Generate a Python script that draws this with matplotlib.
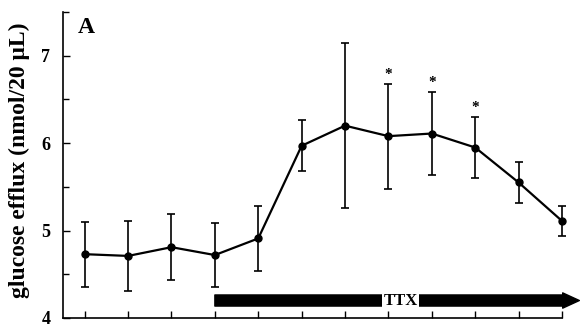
import numpy as np
import matplotlib
matplotlib.use("Agg")
import matplotlib.pyplot as plt
from matplotlib.patches import FancyArrowPatch
from matplotlib.ticker import MultipleLocator

# glucose efflux per sample, mean and error (nmol/20 uL)
samples = np.arange(12)
efflux = [4.73, 4.71, 4.81, 4.72, 4.91, 5.97, 6.20, 6.08, 6.11, 5.95, 5.55, 5.11]
err = [0.37, 0.40, 0.38, 0.37, 0.37, 0.29, 0.94, 0.60, 0.47, 0.35, 0.23, 0.17]
signif = [7, 8, 9]
ttx_start, ttx_end = 3, 11.4
ttx_level = 4.2

plt.rcParams['font.family'] = ['Liberation Serif', 'DejaVu Serif']
plt.rcParams['font.weight'] = 'bold'

fig = plt.figure(figsize=(5.81, 3.27), dpi=100)
ax = fig.add_axes([63 / 581, 9 / 327, (562 - 63) / 581, (318 - 12) / 327])

ax.errorbar(samples, efflux, yerr=err, color='black', lw=1.6, marker='o',
            markersize=5, elinewidth=1.2, capsize=3, capthick=1.2,
            clip_on=False)

for i in signif:
    ax.text(samples[i], efflux[i] + err[i] + 0.11, '*', ha='center',
            va='center', fontsize=11, fontweight='bold')

# TTX application bar
arrow = FancyArrowPatch((ttx_start, ttx_level), (ttx_end, ttx_level),
                        arrowstyle='simple,head_length=12,head_width=11,tail_width=8',
                        mutation_scale=1, shrinkA=0, shrinkB=0,
                        color='black', clip_on=False)
ax.add_patch(arrow)
ax.text(7.28, ttx_level, 'TTX', ha='center', va='center', fontsize=12,
        fontweight='bold',
        bbox=dict(facecolor='white', edgecolor='none', pad=1.0))

ax.set_xlim(-0.5, 11)
ax.set_ylim(4, 7.5)
ax.set_xticks(samples)
ax.set_xticklabels([])
ax.set_yticks([4, 5, 6, 7])
ax.yaxis.set_minor_locator(MultipleLocator(0.5))
ax.tick_params(axis='both', direction='in', length=5, width=1, labelsize=13)
ax.tick_params(axis='y', pad=9)
ax.tick_params(axis='y', which='minor', direction='in', length=4, width=1)
for s in ['top', 'right']:
    ax.spines[s].set_visible(False)
for s in ['left', 'bottom']:
    ax.spines[s].set_linewidth(1.2)

ax.set_ylabel('glucose efflux (nmol/20 \u03bcL)', fontsize=17, fontweight='bold')
ax.yaxis.set_label_coords(-0.066, 0.515)
ax.text(0.03, 0.985, 'A', transform=ax.transAxes, fontsize=17,
        fontweight='bold', va='top', ha='left')

fig.savefig('out.png', dpi=100)
